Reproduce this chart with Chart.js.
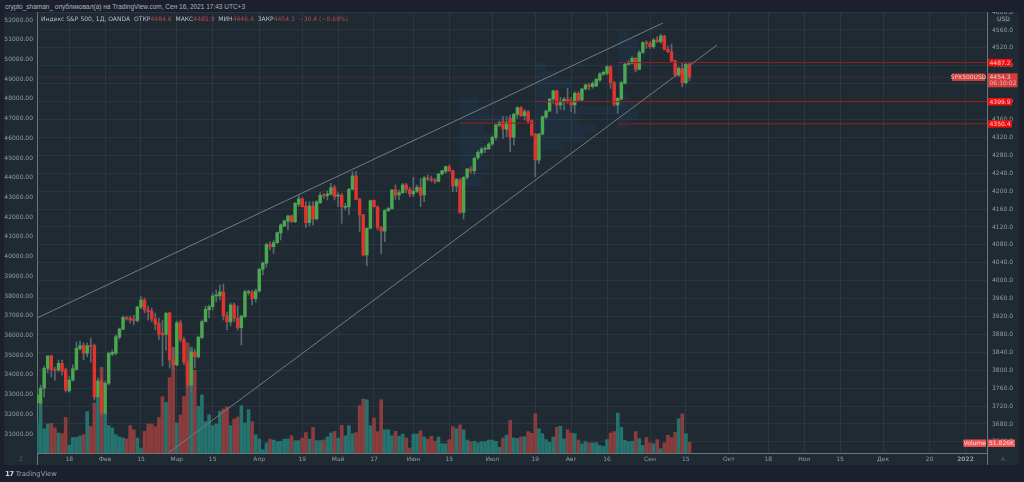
<!DOCTYPE html>
<html>
<head>
<meta charset="utf-8">
<title>S&amp;P 500</title>
<script src="https://cdn.jsdelivr.net/npm/chart.js@4"></script>
<style>
  html, body { margin: 0; padding: 0; background: #1b202c; overflow: hidden; }
  body { width: 1024px; height: 482px; position: relative; font-family: "DejaVu Sans", sans-serif; }
  #panel { position: absolute; left: 4px; top: 12px; width: 1015px; height: 453px; background: #1f2a33; }
  #chart { position: absolute; left: 0; top: 0; }
  #titlebar { position: absolute; left: 0; top: 0; width: 1024px; height: 12px; background: #1b202c; color: #aeb4bc; font-family: "Liberation Sans", sans-serif; font-size: 6.5px; line-height: 13px; padding-left: 5px; white-space: nowrap; }
  #legend { position: absolute; left: 41px; top: 15px; color: #b4bcc2; font-size: 6.05px; line-height: 8px; white-space: pre; }
  #legend b { font-weight: normal; color: #b8484a; }
  #logo { position: absolute; left: 5px; top: 469px; color: #9aa1a9; font-size: 6.8px; line-height: 10px; white-space: nowrap; }
  #logo b { color: #d0d4d8; font-size: 7px; margin-right: 2px; letter-spacing: -0.5px; }
</style>
</head>
<body>
<div id="panel"></div>
<canvas id="chart" width="1024" height="482"></canvas>
<div id="titlebar">crypto_shaman_ опубликовал(а) на TradingView.com, Сен 16, 2021 17:43 UTC+3</div>
<div id="legend">Индекс S&amp;P 500, 1Д, OANDA  ОТКР<b>4484.6</b>  МАКС<b>4485.9</b>  МИН<b>4446.4</b>  ЗАКР<b>4454.3</b>  <b>−30.4 (−0.68%)</b></div>
<div id="logo"><b>17</b>TradingView</div>
<script>
var opens = [
  3727,3727,3760,3804,3832,3802,3801,3815.5,3801,3754,
  3778,3802,3848,3855,3838,3855,3855,3741,3776,3704,
  3771,3836,3838,3874,3892,3917,3916,3914,3911,3941,
  3957,3935,3932,3914.5,3905,3882.5,3880,3928,3823,3812,
  3906,3869,3818,3767,3841,3830,3873,3908.5,3935,3942,
  3966,3966,3975,3922,3908,3946,3916,3895,3920,3973.5,
  3975,3960,3977,4025.5,4039,4081,4076,4085,4107,4122,
  4133,4145,4132,4171,4183,4167,4130,4167,4138,4174,
  4191,4190,4193,4208,4189,4191,4164,4165,4204,4234,
  4182,4147,4057.5,4117,4179,4165,4118.5,4111,4156.5,4161,
  4202.7,4191.5,4196.7,4213.8,4204,4193.7,4199.7,4208.6,4191.5,4229.5,
  4227.2,4225,4222,4238.4,4244.3,4254.8,4245.8,4211.6,4225.7,4152.8,
  4231,4249.6,4245.8,4274.9,4286,4293.5,4294.2,4305.4,4320.3,4347.8,
  4355.3,4338,4362.7,4320.3,4371.6,4386.5,4368.7,4377.6,4356.8,4327.7,
  4269.6,4327.7,4365,4379,4405.9,4423.8,4392.5,4399.9,4405.9,4402,
  4392.5,4418.6,4403.7,4428.2,4437.2,4433.4,4435,4448.3,4461,4463.2,
  4478,4442.3,4392.5,4405.9,4440.8,4483.3,4485.5,4496.7,4472,4510,
  4532.4,4530,4522.7,4537.6,4533.9,4546.6,4516.8,4511.6,4490.7,4459.5,
  4474.3,4442.3,4484.6
];
var closes = [
  3745,3760,3804,3832,3801,3800,3815.5,3798,3756,3778,
  3803.5,3849,3855,3838,3855,3853.5,3740,3776,3704,3771,
  3838,3840,3875,3892,3918,3915,3912,3911,3941,3957,
  3935,3931,3914.5,3903,3880,3879,3927,3823,3812,3906,
  3869,3818,3767,3841,3830,3874,3908.5,3936,3942,3966,
  3968,3975,3922,3908,3946,3916,3895,3921,3975,3975,
  3960,3977,4025.5,4039.6,4081,4076,4085,4107.4,4124.5,4133.4,
  4144.6,4132,4173,4182.6,4165.4,4129.7,4167,4138,4176,4190.7,
  4189.3,4193.7,4208,4187.8,4190.7,4165.4,4166,4204,4234,4181.8,
  4146.8,4057.5,4117,4178.8,4165.4,4118.5,4111,4156.5,4161,4202.7,
  4191.5,4196.7,4213.8,4204,4193.7,4199.7,4208.6,4191.5,4229.5,4227.2,
  4225,4222,4238.4,4245.8,4254.8,4245.8,4211.6,4225.7,4152.8,4231,
  4249.6,4245.8,4273.4,4286.8,4294.2,4295.7,4305.4,4320.3,4347.8,4353.8,
  4339,4353.8,4320.3,4371.6,4386.5,4368.7,4377.6,4356.8,4325.5,4269.6,
  4327.7,4366.4,4379,4405.9,4423.8,4392.5,4399.9,4405.1,4399.9,4392.5,
  4418.6,4403.7,4428.2,4437.2,4433.4,4440.9,4449.8,4461.7,4465.5,4478,
  4442.3,4394,4407.3,4442.3,4483.3,4487.7,4496.7,4472,4510,4531.7,
  4530,4522.7,4537.6,4533.9,4546.6,4516.8,4511.6,4490.7,4459.5,4474.3,
  4442.3,4483.3,4454.3
];
var highs = [
  3785,3767,3809.5,3832,3834,3807,3823,3823,3805,3787,
  3812,3863,3865,3861,3861,3872,3858.6,3782.7,3780.5,3776,
  3840.8,3845,3878.7,3894.4,3921,3921,3921,3923,3943.5,3964.3,
  3961.4,3943.5,3939,3928,3916.7,3912,3930,3930,3849.7,3910,
  3912,3874,3823,3845,3847.5,3876.5,3912,3943.5,3945.7,3972.6,
  3979,3990.4,3992.6,3930,3950,3950,3943.5,3923,3979,3979,
  3979,3981.5,4028.4,4041.8,4084,4087,4089.5,4108.9,4126.7,4135.6,
  4146.8,4146.8,4174.4,4191.5,4185.5,4176.6,4176.6,4176.6,4178.8,4196.7,
  4195.2,4201,4217.6,4213.8,4196.7,4195.2,4172.9,4206.4,4243.6,4243.6,
  4184,4148.3,4118.5,4180.3,4180.3,4166.9,4120.8,4159.5,4164,4204,
  4213.8,4202.7,4217.6,4217.6,4208.6,4231,4213.8,4228.7,4232.4,4236,
  4234,4228.7,4239.9,4247.3,4256.3,4258.5,4247.3,4228.7,4228.7,4232.4,
  4251,4254.8,4275.6,4290.5,4298,4301,4308.4,4323.3,4350,4356.8,
  4366.4,4366.4,4370,4374,4388.8,4388.8,4382.8,4379.8,4359,4329,
  4329,4368,4381.3,4407.4,4426,4426,4409.6,4409.6,4429.7,4409.6,
  4422.3,4422.3,4429.7,4439.4,4441,4444.6,4452,4464.7,4469,4480.3,
  4480.3,4444.6,4408.8,4444.6,4485.5,4491.5,4500.4,4499,4513.8,4533.9,
  4536.1,4533.9,4541.3,4545,4551,4548.8,4524,4528.7,4493,4478,
  4487,4487,4485.9
];
var lows = [
  3725,3720,3740.3,3793.9,3785,3778,3796,3789,3751,3751,
  3776,3800.6,3845,3823,3830,3818,3733.6,3738,3700,3700,
  3767,3832,3834,3869.8,3890,3912,3905.5,3901,3907.8,3937,
  3927.9,3912,3907.8,3890,3867.6,3809.5,3845,3805,3800.6,3809.5,
  3863,3811.7,3762.6,3751,3805,3827,3869.8,3907.8,3916.7,3934.6,
  3952.5,3957,3912.2,3890,3899,3907.8,3890,3856.4,3916.7,3968,
  3945.8,3952.5,3974.8,4012.8,4030,4068.6,4061,4083.5,4091,4120.8,
  4113.3,4129.7,4129.7,4165.4,4164,4119.3,4122.3,4124.5,4135.6,4172.9,
  4184,4180.3,4191.5,4180.3,4165.4,4128.2,4158,4146.8,4202.7,4180.3,
  4109.6,4055.2,4032.9,4115.6,4164,4113.3,4061,4087.3,4155,4159.5,
  4181.8,4180.3,4195.2,4196.7,4187.8,4187.8,4196.7,4165.4,4176.6,4223.5,
  4221.3,4217.6,4220.5,4236.2,4239.9,4243.6,4199,4199,4150.5,4137.9,
  4226.5,4239.9,4238.4,4271,4280.8,4286,4293.5,4302,4314.3,4344,
  4318,4321.8,4288.3,4303,4362.7,4366.4,4359,4351.5,4323.3,4232.4,
  4262.2,4325.5,4362.7,4377.6,4396.2,4373.9,4382.8,4381.3,4396.2,4377.6,
  4373.9,4400,4402.2,4426,4426,4429.7,4433.4,4444.6,4458.8,4459.5,
  4429.7,4390.2,4373.8,4403.6,4439.3,4481.8,4484,4466.9,4470.6,4507.8,
  4519,4519,4519,4531.7,4530,4515.3,4509.3,4487,4455.7,4455.7,
  4433.4,4438.6,4446.4
];
// volume in thousands
var volumes = [
  146,246,118,141,144,122,97,94,173,39,
  76,76,83,89,201,130,243,275,416,194,
  133,122,89,78,73,68,133,113,73,24,
  105,141,141,128,172,274,246,366,514,146,
  185,274,535,515,402,227,282,152,186,133,
  141,203,214,224,133,165,175,230,146,211,
  152,89,68,16,49,68,63,55,57,68,
  68,84,60,60,73,99,68,125,60,60,
  63,78,97,105,73,134,84,133,94,99,
  230,262,259,133,170,104,259,113,113,84,
  105,81,92,73,24,92,92,107,78,68,
  81,58,78,45,44,65,128,118,136,113,
  63,55,57,49,55,55,63,63,57,28,
  73,87,159,73,71,78,79,104,96,191,
  118,94,65,52,78,125,130,68,113,97,
  94,63,45,55,49,49,50,37,32,65,
  97,104,194,125,62,55,57,104,70,37,
  75,49,45,65,21,49,86,75,100,167,
  190,94,52
];

// bottom axis: bar number and what is written under it
var tickBars = [9,19,29,39,49,62,74,84,94,105,115,127,139,149,159,171,181,193,204,214,224,236,249,259];
var tickLabels = ['18','Фев','15','Мар','15','Апр','19','Май','17','Июн','15','Июл','19','Авг','16','Сен','15','Окт','18','Ноя','15','Дек','20','2022'];

var priceTicks = [3640,3680,3720,3760,3800,3840,3880,3920,3960,4000,4040,4080,4120,4160,4200,4240,4280,4320,4360,4400,4440,4480,4520,4560,4600];
var leftTicks = [31000,32000,33000,34000,35000,36000,37000,38000,39000,40000,41000,42000,43000,44000,45000,46000,47000,48000,49000,50000,51000,52000];

// drawn lines, as [bar, price] ends
var upperTrendBars = [0, 174.6];
var upperTrendPrices = [3916.7, 4575.6];
var lowerTrendBars = [36.6, 189.7];
var lowerTrendPrices = [3615, 4526.5];

var levelPrices = [4487.2, 4399.9, 4350.4, 4352];
var levelStartBars = [162, 139, 162, 118];
var levelEndBars = [265, 265, 265, 139];
var lastClose = 4454.3;

// volume profiles: first bar, lowest price, row height in price, row lengths in bars
var profileStarts = [118, 139, 162];
var profileBottoms = [4210, 4290, 4340];
var profileRowSizes = [20, 20, 20];
var profileRows = [
  [6, 5, 8, 6, 7, 9, 7, 14, 8, 5],
  [8, 14, 17, 12, 23, 9, 7, 10, 6, 3],
  [3, 6, 5, 3, 2, 3, 5, 7, 8, 6, 3]
];

var tagPrices = [4487.2, 4399.9, 4350.4];
var tagTexts = ['4487.2', '4399.9', '4350.4'];
var lastVolumeText = '51.826K';
var countdownText = '06:10:02';
var symbolText = 'SPX500USD';

var GREEN = '#4aa94f';
var RED = '#e2342c';
var GREEN_VOL = '#25736e';
var RED_VOL = '#8b3d3e';
var WICK = '#5b676f';
var GRID = '#2b3641';
var AXIS_LINE = '#6b757d';
var TEXT = '#949ca3';

function barPoints(fn) {
  return opens.map(function (o, i) { return { x: i, y: fn(i) }; });
}

function lineDataset(bars, prices, color, width, dash) {
  return {
    type: 'line',
    data: bars.map(function (b, i) { return { x: b, y: prices[i] }; }),
    borderColor: color,
    borderWidth: width,
    borderDash: dash || [],
    pointRadius: 0,
    yAxisID: 'y',
    order: 0
  };
}

function fixedTicks(values) {
  return function (scale) {
    scale.ticks = values.map(function (v) { return { value: v }; });
  };
}

// faint profiles sit under the candles
var profilePlugin = {
  id: 'profiles',
  beforeDatasetsDraw: function (chart) {
    var ctx = chart.ctx, x = chart.scales.x, y = chart.scales.y;
    ctx.save();
    ctx.fillStyle = 'rgba(30,105,165,0.09)';
    profileRows.forEach(function (rows, p) {
      rows.forEach(function (len, r) {
        var bottom = profileBottoms[p] + r * profileRowSizes[p];
        var left = x.getPixelForValue(profileStarts[p]);
        var right = x.getPixelForValue(profileStarts[p] + len);
        var top = y.getPixelForValue(bottom + profileRowSizes[p]);
        ctx.fillRect(left, top, right - left, y.getPixelForValue(bottom) - top);
      });
    });
    ctx.restore();
  }
};

function tag(ctx, left, top, w, h, bg, color, text) {
  ctx.fillStyle = bg;
  ctx.fillRect(left, top, w, h);
  ctx.fillStyle = color;
  ctx.fillText(text, left + w / 2, top + h / 2 + 0.5);
}

var tagsPlugin = {
  id: 'tags',
  afterDraw: function (chart) {
    var ctx = chart.ctx, a = chart.chartArea, y = chart.scales.y;
    ctx.save();
    ctx.font = '6px "DejaVu Sans"';
    ctx.textAlign = 'center';
    ctx.textBaseline = 'middle';

    // axis lines run down through the date row
    ctx.strokeStyle = AXIS_LINE;
    ctx.lineWidth = 1;
    ctx.beginPath();
    ctx.moveTo(a.left + 0.5, a.bottom); ctx.lineTo(a.left + 0.5, 465);
    ctx.moveTo(a.right + 0.5, a.bottom); ctx.lineTo(a.right + 0.5, 465);
    ctx.stroke();

    tagPrices.forEach(function (p, i) {
      tag(ctx, a.right + 1, y.getPixelForValue(p) - 3.7, 24, 7.5, '#f20d0d', '#f3d0d0', tagTexts[i]);
    });

    var cy = y.getPixelForValue(lastClose);
    ctx.fillStyle = '#d43f3c';
    ctx.fillRect(a.right + 1, cy - 4, 29.5, 14);
    ctx.fillStyle = '#ecd0d0';
    ctx.fillText(lastClose.toFixed(1), a.right + 13, cy);
    ctx.fillStyle = '#e6b4b2';
    ctx.fillText(countdownText, a.right + 16, cy + 6.4);
    tag(ctx, a.right - 35, cy - 3.8, 33, 7.4, '#d43f3c', '#ecd0d0', symbolText);

    tag(ctx, 963.5, 439.5, 22.5, 7.5, '#ef5350', '#f6dcdc', 'Volume');
    tag(ctx, a.right + 1, 439.5, 27, 7.5, '#ef5350', '#f6dcdc', lastVolumeText);

    tag(ctx, 997.5, 15.5, 12, 7, '#27323b', '#a3abb2', 'USD');
    ctx.fillStyle = '#59626a';
    ctx.fillText('А', 1003, 459.5);
    ctx.fillText('Z', 21, 459.5);
    ctx.restore();
  }
};

var datasets = [
  {
    type: 'bar',
    data: barPoints(function (i) { return volumes[i]; }),
    yAxisID: 'yVol',
    barThickness: 3,
    backgroundColor: opens.map(function (o, i) { return closes[i] >= o ? GREEN_VOL : RED_VOL; }),
    order: 3
  },
  {
    type: 'bar',
    data: barPoints(function (i) { return [lows[i], highs[i]]; }),
    yAxisID: 'y',
    barThickness: 1,
    backgroundColor: WICK,
    order: 2
  },
  {
    type: 'bar',
    data: barPoints(function (i) { return [opens[i], closes[i]]; }),
    yAxisID: 'y',
    barThickness: 2.8,
    minBarLength: 1,
    backgroundColor: opens.map(function (o, i) { return closes[i] >= o ? GREEN : RED; }),
    order: 1
  },
  lineDataset(upperTrendBars, upperTrendPrices, '#747c81', 1),
  lineDataset(lowerTrendBars, lowerTrendPrices, '#747c81', 1),
  lineDataset([0, 265], [lastClose, lastClose], 'rgba(170,50,55,0.45)', 1, [1, 1])
];
levelPrices.forEach(function (p, i) {
  datasets.push(lineDataset([levelStartBars[i], levelEndBars[i]], [p, p], '#9c1c22', 1));
});

new Chart(document.getElementById('chart'), {
  data: { datasets: datasets },
  plugins: [profilePlugin, tagsPlugin],
  options: {
    responsive: false,
    animation: false,
    devicePixelRatio: 1,
    grouped: false,
    layout: { padding: { left: 4, right: 5, top: 12, bottom: 17 } },
    plugins: { legend: { display: false }, tooltip: { enabled: false } },
    scales: {
      x: {
        type: 'linear',
        offset: false,
        min: 0,
        max: 265,
        afterBuildTicks: fixedTicks(tickBars),
        afterFit: function (scale) { scale.height = 12; },
        grid: { color: GRID, drawTicks: false, offset: false },
        border: { color: AXIS_LINE },
        ticks: {
          color: TEXT,
          padding: 3,
          maxRotation: 0,
          autoSkip: false,
          font: function (c) {
            var isYear = c.tick && c.tick.value === 259;
            return { family: '"DejaVu Sans"', size: 6, weight: isYear ? 'bold' : 'normal' };
          },
          callback: function (v) { return tickLabels[tickBars.indexOf(v)]; }
        }
      },
      y: {
        position: 'right',
        min: 3615.2,
        max: 4600.2,
        afterBuildTicks: fixedTicks(priceTicks),
        afterFit: function (scale) { scale.width = 32; },
        grid: { color: GRID, drawTicks: false },
        border: { color: AXIS_LINE },
        ticks: {
          color: TEXT,
          padding: 5,
          autoSkip: false,
          font: { family: '"DejaVu Sans"', size: 6 },
          callback: function (v) { return v.toFixed(1); }
        }
      },
      yLeft: {
        position: 'left',
        min: 30036,
        max: 52406,
        afterBuildTicks: fixedTicks(leftTicks),
        afterFit: function (scale) { scale.width = 33; },
        grid: { drawOnChartArea: false, drawTicks: false },
        border: { color: AXIS_LINE },
        ticks: {
          color: TEXT,
          padding: 4,
          autoSkip: false,
          font: { family: '"DejaVu Sans"', size: 6 },
          callback: function (v) { return v.toFixed(2); }
        }
      },
      yVol: { display: false, min: 0, max: 2143 }
    }
  }
});
</script>
</body>
</html>
